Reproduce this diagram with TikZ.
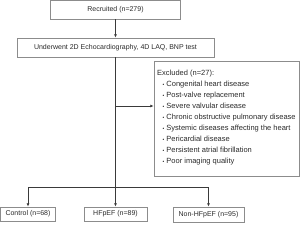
\documentclass[tikz,border=0pt]{standalone}
\usepackage{fontspec}
\setmainfont{Liberation Sans}
\usetikzlibrary{arrows.meta}
\definecolor{boxgray}{HTML}{8C8C8C}
\definecolor{linegray}{HTML}{3A3A3A}
\definecolor{txtgray}{HTML}{2A2A2A}
\tikzset{
  box/.style={draw=boxgray, line width=0.8pt, inner sep=0pt, text=txtgray,
    font=\fontsize{7}{8}\selectfont},
  conn/.style={draw=linegray, line width=0.6pt},
  arr/.style={conn, -{Latex[length=3.2pt,width=2.8pt]}},
}
\begin{document}
\begin{tikzpicture}[x=1pt,y=-1pt]
\useasboundingbox (0,0) rectangle (300,227);
\node[box, minimum width=130pt, minimum height=18.5pt] (rec) at (115.5,9.75) {Recruited (n=279)};
\node[box, minimum width=197pt, minimum height=19pt] (und) at (115.5,47.5) {Underwent 2D Echocardiography, 4D LAQ, BNP test};
\node[box, minimum width=145pt, minimum height=115pt] (exc) at (226.5,118.5) {};
\node[anchor=north west, inner sep=0pt, align=left, text=txtgray,
  font=\fontsize{7.5}{11}\selectfont] (exct) at (157,70)
  {Excluded (n=27):\\
   \hspace*{5.5pt}{\tiny\textbullet}\hspace{2pt}Congenital heart disease\\
   \hspace*{5.5pt}{\tiny\textbullet}\hspace{2pt}Post-valve replacement\\
   \hspace*{5.5pt}{\tiny\textbullet}\hspace{2pt}Severe valvular disease\\
   \hspace*{5.5pt}{\tiny\textbullet}\hspace{2pt}Chronic obstructive pulmonary disease\\
   \hspace*{5.5pt}{\tiny\textbullet}\hspace{2pt}Systemic diseases affecting the heart\\
   \hspace*{5.5pt}{\tiny\textbullet}\hspace{2pt}Pericardial disease\\
   \hspace*{5.5pt}{\tiny\textbullet}\hspace{2pt}Persistent atrial fibrillation\\
   \hspace*{5.5pt}{\tiny\textbullet}\hspace{2pt}Poor imaging quality};
\node[box, minimum width=55pt, minimum height=14pt] (ctl) at (28,214) {Control (n=68)};
\node[box, minimum width=63pt, minimum height=14pt] (hf) at (115.5,214) {HFpEF (n=89)};
\node[box, minimum width=71pt, minimum height=15pt] (non) at (208.5,214.5) {Non-HFpEF (n=95)};
\coordinate (branch) at (115.5,106);
\coordinate (split) at (115.5,187);
\draw[arr] (rec.south) -- (und.north);
\draw[conn] (und.south) -- (split);
\draw[arr] (branch) -- (branch -| exc.west);
\draw[arr] (split) -- (hf.north);
\draw[arr] (split) -| (ctl.north);
\draw[arr] (split) -| (non.north);
\end{tikzpicture}
\end{document}
